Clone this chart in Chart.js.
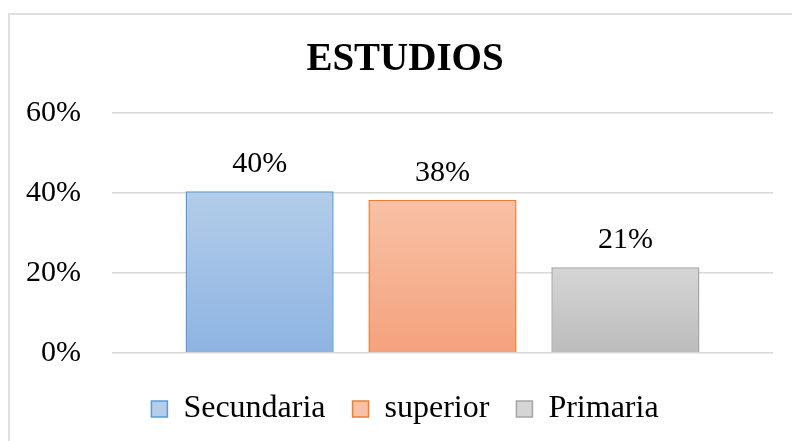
<!DOCTYPE html>
<html>
<head>
<meta charset="utf-8">
<script src="https://cdn.jsdelivr.net/npm/chart.js@4/dist/chart.umd.min.js"></script>
<style>
  html, body { margin: 0; padding: 0; background: #fff; overflow: hidden; width: 792px; height: 441px; }
  #frame { position: absolute; left: 8px; top: 13px; width: 900px; height: 600px;
           border-top: 2px solid #e0e0e0; border-left: 2px solid #e0e0e0; }
  #wrap { position: absolute; left: 9px; top: 14px; width: 792px; height: 427px; }
</style>
</head>
<body>
<div id="frame"></div>
<div id="wrap"><canvas id="chart" width="792" height="427"></canvas></div>
<script>
const labels = ["Secundaria", "superior", "Primaria"]
const values = [40.4, 38.2, 21.4]
const yTicks = [0, 20, 40, 60]

const topColors = ["#b3cdea", "#f8c1a6", "#d5d5d5"]
const bottomColors = ["#8db4e2", "#f4a27c", "#bcbcbc"]
const borderColors = ["#5b9bd5", "#ed7d31", "#a5a5a5"]
const serif = "'Liberation Serif', 'Times New Roman', serif"

function gradientFor(i) {
  return ctx => {
    const chart = ctx.chart
    const area = chart.chartArea
    if (!area) return topColors[i]
    const y = chart.scales.y
    const top = y.getPixelForValue(values[i])
    const g = chart.ctx.createLinearGradient(0, top, 0, area.bottom)
    g.addColorStop(0, topColors[i])
    g.addColorStop(1, bottomColors[i])
    return g
  }
}

// value labels above the bars
const barLabels = {
  id: "barLabels",
  afterDatasetsDraw(chart) {
    const ctx = chart.ctx
    ctx.save()
    ctx.font = "30px " + serif
    ctx.fillStyle = "#000"
    ctx.textAlign = "center"
    ctx.textBaseline = "alphabetic"
    chart.data.datasets.forEach((ds, i) => {
      const bar = chart.getDatasetMeta(i).data[0]
      ctx.fillText(Math.round(ds.data[0]) + "%", bar.x, bar.y - 19)
    })
    ctx.restore()
  }
}

new Chart(document.getElementById("chart"), {
  type: "bar",
  data: {
    labels: [""],
    datasets: labels.map((l, i) => ({
      label: l,
      data: [values[i]],
      backgroundColor: gradientFor(i),
      borderColor: borderColors[i],
      borderWidth: 1.5,
      categoryPercentage: 0.83,
      barPercentage: 0.81
    }))
  },
  options: {
    responsive: false,
    animation: false,
    layout: { padding: { left: 0, right: 0, top: 0, bottom: 6 } },
    plugins: {
      title: {
        display: true,
        text: "ESTUDIOS",
        color: "#000",
        font: { family: serif, size: 39, weight: "bold" },
        padding: { top: 23, bottom: 29 }
      },
      legend: {
        position: "bottom",
        labels: {
          color: "#000",
          font: { family: serif, size: 32 },
          boxWidth: 16,
          boxHeight: 16,
          padding: 27,
          generateLabels: () => labels.map((l, i) => ({
            text: l,
            fillStyle: topColors[i],
            strokeStyle: borderColors[i],
            lineWidth: 1.5,
            datasetIndex: i
          }))
        }
      },
      tooltip: { enabled: false }
    },
    scales: {
      x: {
        grid: { display: false },
        border: { display: false },
        ticks: { display: false },
        afterFit: s => { s.height = 13 }
      },
      y: {
        min: 0,
        max: 60,
        afterBuildTicks: s => { s.ticks = yTicks.map(v => ({ value: v })) },
        afterFit: s => { s.width = 103 },
        border: { display: false },
        grid: { color: "#d9d9d9", lineWidth: 1.5, drawTicks: false },
        ticks: {
          padding: 31,
          color: "#000",
          font: { family: serif, size: 30 },
          callback: v => v + "%"
        }
      },
      yRight: {
        type: "linear",
        position: "right",
        grid: { display: false },
        border: { display: false },
        ticks: { display: false },
        afterFit: s => { s.width = 28 }
      }
    }
  },
  plugins: [barLabels]
})
</script>
</body>
</html>
